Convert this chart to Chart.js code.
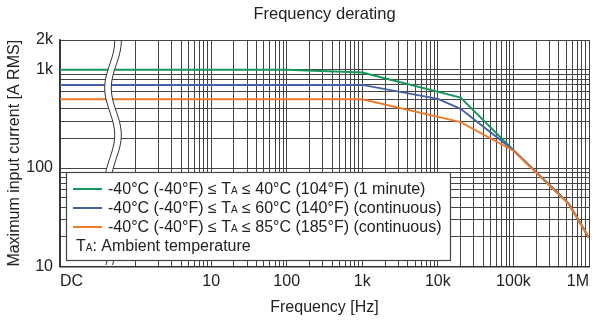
<!DOCTYPE html>
<html><head><meta charset="utf-8">
<script src="https://cdn.jsdelivr.net/npm/chart.js@4.4.1/dist/chart.umd.min.js"></script>
<style>html,body{margin:0;padding:0;background:#fff;}#wrap{width:595px;height:320px;position:relative;}</style>
</head><body><div id="wrap"><canvas id="c" width="595" height="320"></canvas></div>
<script>
// ---- data ----
const chartTitle = 'Frequency derating';
const xAxisTitle = 'Frequency [Hz]';
const yAxisTitle = 'Maximum input current [A RMS]';
const seriesLabels = [
  '-40°C (-40°F) ≤ TA ≤ 40°C (104°F) (1 minute)',
  '-40°C (-40°F) ≤ TA ≤ 60°C (140°F) (continuous)',
  '-40°C (-40°F) ≤ TA ≤ 85°C (185°F) (continuous)'
];
const legendNote = 'TA: Ambient temperature';
const greenFreq = [0.1, 100, 1000, 20000, 100000, 540000, 1000000];
const greenCurrent = [1000, 1000, 935, 520, 152, 43.5, 19.6];
const blueFreq = [0.1, 1000, 10000, 20000, 100000, 540000, 1000000];
const blueCurrent = [700, 700, 505, 400, 152, 43.5, 19.6];
const orangeFreq = [0.1, 1000, 20000, 100000, 540000, 1000000];
const orangeCurrent = [500, 500, 293, 150, 43, 19.6];
const xGridDecades = [1, 10, 100, 1000, 10000, 100000];
const gridMultipliers = [1, 2, 3, 4, 5, 6, 7, 8, 9];
const xTickValues = [0.1, 10, 100, 1000, 10000, 100000, 1000000];
const xTickLabels = ['DC', '10', '100', '1k', '10k', '100k', '1M'];
const yGridDecades = [10, 100];
const yTickValues = [10, 100, 1000, 2000];
const yTickLabels = ['10', '100', '1k', '2k'];

// ---- helpers ----
const pts = (xs, ys) => xs.map((v, i) => ({x: v, y: ys[i]}));
const same = (a, b) => Math.abs(Math.log10(a) - Math.log10(b)) < 1e-6;
const labelFor = (vals, labels) => v => { const i = vals.findIndex(t => same(t, v)); return i >= 0 ? labels[i] : ''; };
const xGrid = [xTickValues[0]];
xGridDecades.forEach(d => gridMultipliers.forEach(m => xGrid.push(m * d)));
xGrid.push(xTickValues[xTickValues.length - 1]);
const yGrid = [];
yGridDecades.forEach(d => gridMultipliers.forEach(m => yGrid.push(m * d)));
yTickValues.filter(v => v > yGrid[yGrid.length - 1]).forEach(v => yGrid.push(v));

const FONT = '"Liberation Sans", Arial, sans-serif';
const TXT = '#222';
const GRID = '#444';
const COLORS = ['#13985a', '#4562a9', '#f07a2a'];
Chart.defaults.font.family = FONT;
Chart.defaults.color = TXT;

const breakPlugin = {
  id: 'axisBreak',
  afterDatasetsDraw(chart) {
    const {ctx, chartArea: a} = chart;
    const cx = 113, amp = 5, period = 94, y0 = 135, hw = 3.3;
    const y1 = a.top + 1, y2 = a.bottom - 1;
    const f = y => cx + amp * Math.cos(2 * Math.PI * (y - y0) / period);
    ctx.save();
    ctx.beginPath();
    for (let y = y1; y <= y2; y += 1) ctx.lineTo(f(y) - hw, y);
    for (let y = y2; y >= y1; y -= 1) ctx.lineTo(f(y) + hw, y);
    ctx.closePath();
    ctx.fillStyle = '#fff';
    ctx.fill();
    ctx.strokeStyle = '#333';
    ctx.lineWidth = 1;
    [-hw, hw].forEach(o => {
      ctx.beginPath();
      for (let y = y1; y <= y2; y += 1) ctx.lineTo(f(y) + o, y);
      ctx.stroke();
    });
    ctx.restore();
  }
};

function drawRich(ctx, text, x, y) {
  const parts = text.split('TA');
  parts.forEach((p, i) => {
    ctx.font = '16px ' + FONT;
    ctx.fillText(p, x, y); x += ctx.measureText(p).width;
    if (i < parts.length - 1) {
      ctx.fillText('T', x, y); x += ctx.measureText('T').width;
      ctx.font = '10px ' + FONT;
      ctx.fillText('A', x, y); x += ctx.measureText('A').width;
    }
  });
}

const legendPlugin = {
  id: 'boxLegend',
  afterDraw(chart) {
    const ctx = chart.ctx;
    ctx.save();
    ctx.fillStyle = '#fff';
    ctx.fillRect(66.5, 172.5, 384, 88);
    ctx.strokeStyle = '#444';
    ctx.lineWidth = 1.2;
    ctx.strokeRect(66.5, 172.5, 384, 88);
    ctx.textBaseline = 'alphabetic';
    ctx.fillStyle = TXT;
    const rows = [188.5, 207.5, 226.5];
    chart.data.datasets.forEach((ds, i) => {
      ctx.strokeStyle = ds.borderColor;
      ctx.lineWidth = 2;
      ctx.beginPath(); ctx.moveTo(73, rows[i] + 0.5); ctx.lineTo(102, rows[i] + 0.5); ctx.stroke();
      ctx.fillStyle = TXT;
      drawRich(ctx, ds.label, 108, rows[i] + 5);
    });
    drawRich(ctx, legendNote, 76, 250.5);
    ctx.restore();
  }
};

new Chart(document.getElementById('c'), {
  type: 'line',
  data: {
    datasets: [
      {label: seriesLabels[0], data: pts(greenFreq, greenCurrent), borderColor: COLORS[0], order: 3},
      {label: seriesLabels[1], data: pts(blueFreq, blueCurrent), borderColor: COLORS[1], order: 2},
      {label: seriesLabels[2], data: pts(orangeFreq, orangeCurrent), borderColor: COLORS[2], order: 1}
    ]
  },
  options: {
    responsive: false,
    animation: false,
    devicePixelRatio: 1,
    elements: {line: {borderWidth: 2, tension: 0, fill: false}, point: {radius: 0}},
    layout: {padding: {left: 0, right: 6, top: 0, bottom: 0}},
    plugins: {
      legend: {display: false},
      tooltip: {enabled: false},
      title: {display: true, text: chartTitle, color: TXT, fullSize: false,
        font: {size: 16.5, weight: 'normal', family: FONT}, padding: {top: 4.3, bottom: 15.9}}
    },
    scales: {
      x: {
        type: 'logarithmic', min: 0.1, max: 1000000,
        afterFit: s => { s.height = 53.5; },
        afterBuildTicks: s => { s.ticks = xGrid.map(v => ({value: v})); },
        grid: {color: GRID, lineWidth: 1, drawTicks: false},
        border: {color: '#333', width: 1.5},
        ticks: {autoSkip: false, maxRotation: 0, align: 'inner', padding: 5.5, color: TXT,
          font: {size: 16}, callback: labelFor(xTickValues, xTickLabels)},
        title: {display: true, text: xAxisTitle, color: TXT, font: {size: 16}, padding: {top: 0, bottom: 3}}
      },
      y: {
        type: 'logarithmic', min: 10, max: 2000,
        afterFit: s => { s.width = 60; },
        afterBuildTicks: s => { s.ticks = yGrid.map(v => ({value: v})); },
        grid: {color: GRID, lineWidth: 1, drawTicks: false},
        border: {color: '#333', width: 1.5},
        ticks: {autoSkip: false, padding: 7, color: TXT, font: {size: 16},
          callback: labelFor(yTickValues, yTickLabels)},
        title: {display: true, text: yAxisTitle, color: TXT, font: {size: 16}, padding: {top: 4.6, bottom: 0}}
      }
    }
  },
  plugins: [breakPlugin, legendPlugin]
});
</script></body></html>
